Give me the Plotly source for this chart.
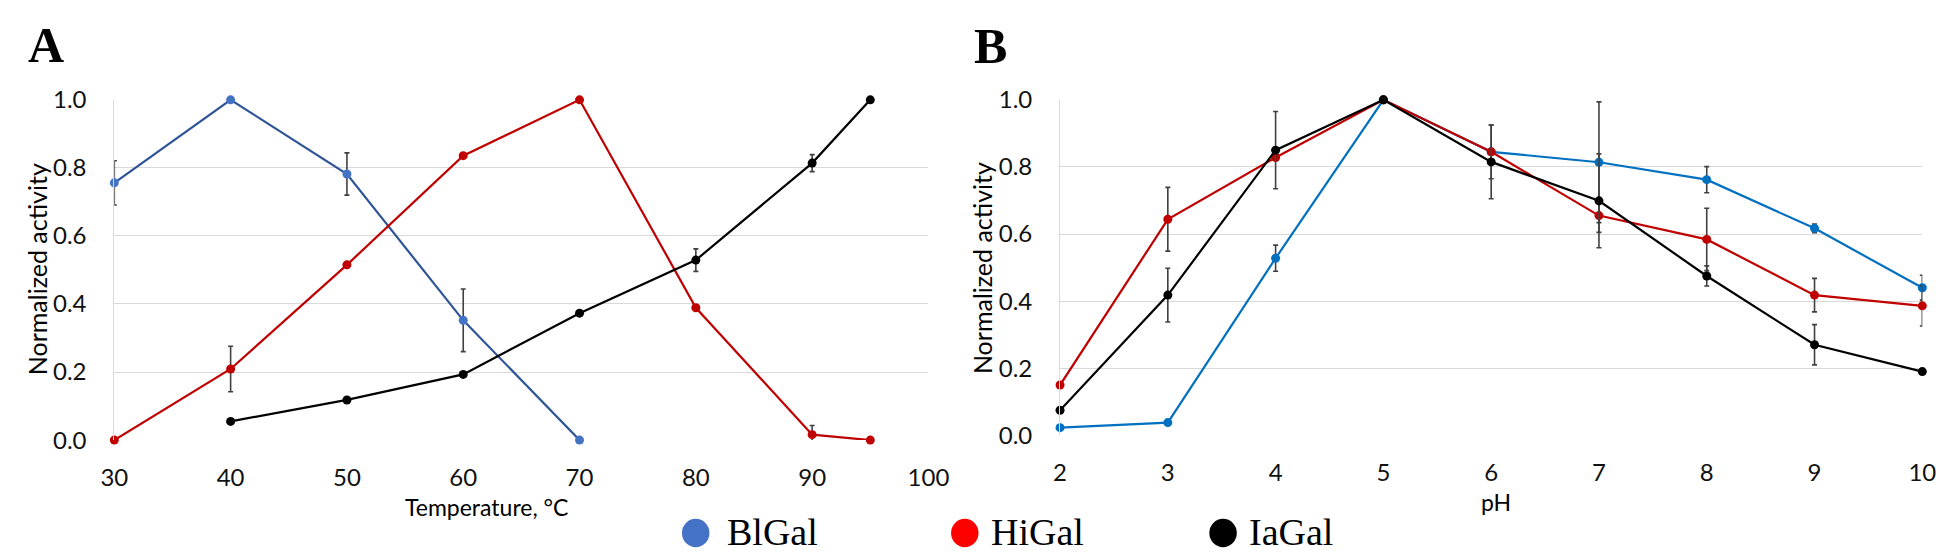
import plotly.graph_objects as go

W, H = 1952, 556

# ---------------- Data ----------------
temp_bl = [30, 40, 50, 60, 70]
act_bl_t = [0.756, 1.0, 0.782, 0.352, 0.0]
err_bl_t = [0.065, 0.0, 0.062, 0.092, 0.0]

temp_hi = [30, 40, 50, 60, 70, 80, 90, 95]
act_hi_t = [0.0, 0.209, 0.515, 0.836, 1.0, 0.389, 0.016, 0.0]
err_hi_t = [0.0, 0.067, 0.0, 0.0, 0.0, 0.0, 0.027, 0.0]

temp_ia = [40, 50, 60, 70, 80, 90, 95]
act_ia_t = [0.055, 0.118, 0.193, 0.373, 0.529, 0.814, 1.0]
err_ia_t = [0.0, 0.0, 0.0, 0.0, 0.033, 0.025, 0.0]

ph = [2, 3, 4, 5, 6, 7, 8, 9, 10]
act_bl_ph = [0.023, 0.038, 0.528, 1.0, 0.845, 0.814, 0.762, 0.617, 0.44]
err_bl_ph = [0.0, 0.0, 0.039, 0.0, 0.0, 0.18, 0.039, 0.013, 0.037]
act_hi_ph = [0.150, 0.644, 0.828, 1.0, 0.845, 0.655, 0.584, 0.418, 0.386]
err_hi_ph = [0.0, 0.095, 0.0, 0.0, 0.08, 0.05, 0.093, 0.05, 0.06]
act_ia_ph = [0.075, 0.418, 0.85, 1.0, 0.815, 0.699, 0.475, 0.27, 0.19]
err_ia_ph = [0.0, 0.08, 0.115, 0.0, 0.11, 0.14, 0.03, 0.06, 0.0]

temp_ticks = [30, 40, 50, 60, 70, 80, 90, 100]
ph_ticks = [2, 3, 4, 5, 6, 7, 8, 9, 10]
y_ticks = [0.0, 0.2, 0.4, 0.6, 0.8, 1.0]
legend_names = ["BlGal", "HiGal", "IaGal"]
legend_colors = ["#4472C4", "#FF0000", "#000000"]

# ---------------- Helpers ----------------
def px(x):
    return x / W

def py(y):
    return 1 - y / H

ERR = "#404040"
TICKFONT = dict(family="Lato, Carlito, Arial", size=24, color="#111111")

fig = go.Figure()

def add_series(x, y, e, line_color, marker_color, xa, ya):
    fig.add_trace(go.Scatter(
        x=x, y=y, mode="lines+markers",
        line=dict(color=line_color, width=2.2),
        marker=dict(color=marker_color, size=9, line=dict(width=0)),
        error_y=dict(type="data", array=e, visible=True, color=ERR, thickness=1.6, width=2.5),
        xaxis=xa, yaxis=ya, showlegend=False, cliponaxis=False,
    ))

# Panel A
add_series(temp_bl, act_bl_t, err_bl_t, "#2F5597", "#4472C4", "x", "y")
add_series(temp_hi, act_hi_t, err_hi_t, "#C00000", "#C00000", "x", "y")
add_series(temp_ia, act_ia_t, err_ia_t, "#000000", "#000000", "x", "y")
# Panel B
add_series(ph, act_bl_ph, err_bl_ph, "#0070C0", "#0070C0", "x2", "y2")
add_series(ph, act_hi_ph, err_hi_ph, "#C00000", "#C00000", "x2", "y2")
add_series(ph, act_ia_ph, err_ia_ph, "#000000", "#000000", "x2", "y2")

xaxis_common = dict(showgrid=False, zeroline=False, tickfont=TICKFONT, ticks="",
                    showline=False, ticklabelstandoff=21)
yaxis_common = dict(showgrid=True, gridcolor="#D9D9D9", gridwidth=1, zeroline=False,
                    tickfont=TICKFONT, ticks="", showline=True, linecolor="#D9D9D9",
                    linewidth=1, ticklabelstandoff=22)

fig.update_layout(
    width=W, height=H,
    margin=dict(l=0, r=0, t=0, b=0),
    paper_bgcolor="white", plot_bgcolor="white",
    xaxis=dict(domain=[px(94), px(923)], range=[30, 100], tickvals=temp_ticks,
               ticktext=[str(t) for t in temp_ticks], anchor="y", **xaxis_common),
    yaxis=dict(domain=[py(439), py(80)], range=[0, 1.0], tickvals=y_ticks,
               ticktext=[f"{v:.1f}" for v in y_ticks], anchor="x", **yaxis_common),
    xaxis2=dict(domain=[px(1057), px(1935)], range=[2, 10], tickvals=ph_ticks,
                ticktext=[str(t) for t in ph_ticks], anchor="y2", **xaxis_common),
    yaxis2=dict(domain=[py(434), py(80)], range=[0, 1.0], tickvals=y_ticks,
                ticktext=[f"{v:.1f}" for v in y_ticks], anchor="x2", **yaxis_common),
)

ann = []
XTITLE = dict(family="Lato, Carlito, Arial", size=23, color="#000000")
YTITLE = dict(family="Lato, Carlito, Arial", size=25, color="#000000")
# axis titles
ann.append(dict(text="Temperature, °C", x=px(473), y=py(510), xref="paper", yref="paper",
                showarrow=False, font=XTITLE, xanchor="center", yanchor="middle", borderpad=0))
ann.append(dict(text="pH", x=px(1501), y=py(504), xref="paper", yref="paper",
                showarrow=False, font=XTITLE, xanchor="center", yanchor="middle", borderpad=0))
ann.append(dict(text="Normalized activity", x=px(16), y=py(259), xref="paper", yref="paper",
                showarrow=False, font=YTITLE, textangle=-90, xanchor="center", yanchor="middle"))
ann.append(dict(text="Normalized activity", x=px(977), y=py(257), xref="paper", yref="paper",
                showarrow=False, font=YTITLE, textangle=-90, xanchor="center", yanchor="middle"))
# panel letters
LETTER = dict(family="Liberation Serif, Times New Roman, serif", size=50, color="#000000")
ann.append(dict(text="<b>A</b>", x=px(24), y=py(22), xref="paper", yref="paper",
                showarrow=False, font=LETTER, xanchor="center", yanchor="middle"))
ann.append(dict(text="<b>B</b>", x=px(986), y=py(23), xref="paper", yref="paper",
                showarrow=False, font=LETTER, xanchor="center", yanchor="middle"))

# legend
leg_cx = [686, 960, 1223]
leg_tx = [716, 985, 1247]
shapes = []
LEGFONT = dict(family="Liberation Serif, Times New Roman, serif", size=38, color="#000000")
for name, col, cx, tx in zip(legend_names, legend_colors, leg_cx, leg_tx):
    r = 15
    shapes.append(dict(type="circle", xref="paper", yref="paper",
                       x0=px(cx - 14), x1=px(cx + 14), y0=py(537 + r), y1=py(537 - r),
                       fillcolor=col, line=dict(width=0)))
    ann.append(dict(text=name, x=px(tx), y=py(536), xref="paper", yref="paper",
                    showarrow=False, font=LEGFONT, xanchor="left", yanchor="middle"))

fig.update_layout(annotations=ann, shapes=shapes)

fig.write_html("out.html")
